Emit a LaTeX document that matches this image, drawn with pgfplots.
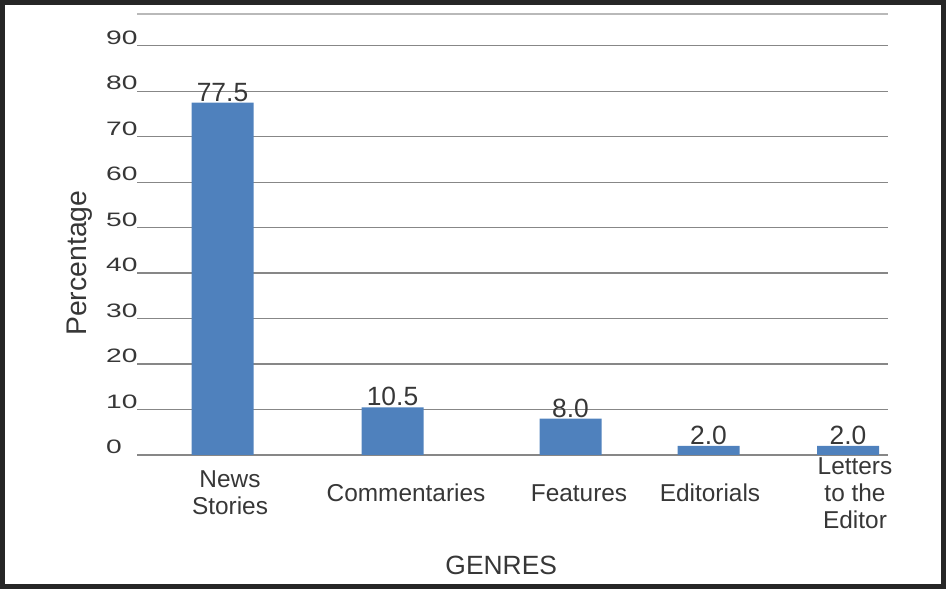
\documentclass[border=0pt]{standalone}
\usepackage{pgfplots}
\pgfplotsset{compat=1.18}
\usepackage{graphicx}
\usepackage{fontspec}
\setmainfont{Liberation Sans}
\definecolor{barblue}{RGB}{79,129,189}
\definecolor{txt}{RGB}{55,55,55}
\definecolor{gridc}{RGB}{135,135,135}
\begin{document}
\begin{tikzpicture}
\useasboundingbox (0bp,0bp) rectangle (946bp,589bp);
\begin{axis}[
  at={(137bp,134bp)}, anchor=south west,
  scale only axis, width=751bp, height=441bp,
  xmin=137, xmax=888, ymin=0, ymax=97,
  axis line style={draw=none},
  major tick length=0pt,
  /pgf/number format/assume math mode=true,
  ymajorgrids,
  grid style={gridc, line width=1.3bp},
  ytick={0,10,...,90},
  extra y ticks={97}, extra y tick labels={},
  extra y tick style={grid style={gray!55, line width=2.5bp}},
  xtick={230,406,579,710,855},
  xticklabels={News\\Stories, Commentaries, Features, Editorials, Letters\\to the\\Editor},
  xticklabel style={align=center, anchor=center, yshift=-38bp, font=\fontsize{24.5}{27}\selectfont, text=txt},
  yticklabel style={anchor=south west, inner sep=0pt, xshift=-31bp, yshift=1bp, font=\fontsize{19.5}{20}\selectfont, text=txt},
  yticklabel={\scalebox{1.45}[1]{\pgfmathprintnumber{\tick}}},
  xlabel={GENRES},
  xlabel style={at={(rel axis cs:0.485,-0.2494)}, anchor=center, font=\fontsize{26.5}{28}\selectfont, text=txt},
  ylabel={Percentage},
  ylabel style={at={(rel axis cs:-0.0759,0.435)}, anchor=center, font=\fontsize{28.5}{30}\selectfont, text=txt},
  nodes near coords,
  nodes near coords style={font=\fontsize{26.5}{28}\selectfont, text=txt, inner sep=1bp,
    /pgf/number format/fixed, /pgf/number format/fixed zerofill, /pgf/number format/precision=1},
]
\addplot[ybar, bar width=62bp, fill=barblue, draw=none] coordinates {
  (222.5,77.5) (392.5,10.5) (570.5,8.0) (708.5,2.0) (848,2.0)
};
\end{axis}
\draw[line width=5bp, black!85] (2.5bp,2.5bp) rectangle (943.5bp,586.5bp);
\end{tikzpicture}
\end{document}
